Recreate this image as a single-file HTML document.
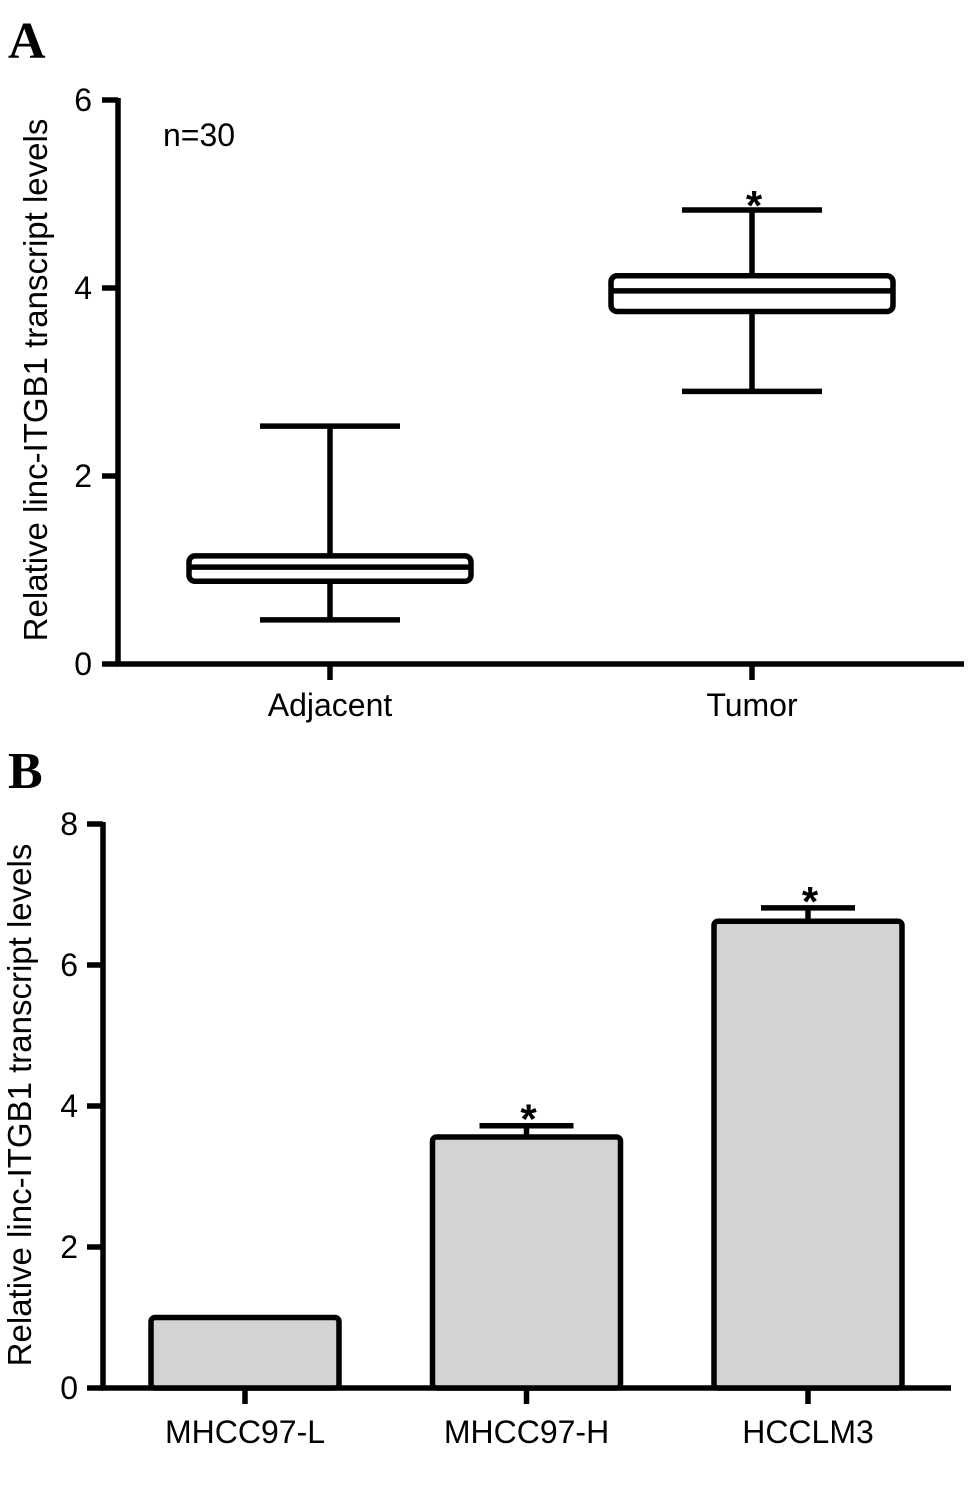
<!DOCTYPE html>
<html><head><meta charset="utf-8"><style>
html,body{margin:0;padding:0;background:#fff}
svg{display:block}
text{font-family:"Liberation Sans",Arial,sans-serif;fill:#000}
</style></head><body>
<svg width="977" height="1494" viewBox="0 0 977 1494">
<text x="8" y="58" font-weight="bold" font-size="52" style="font-family:'Liberation Serif',serif">A</text>
<text x="8" y="788" font-weight="bold" font-size="52" style="font-family:'Liberation Serif',serif">B</text>
<g id="ga"></g>
<g id="gb"></g>
</svg>
<script>
// Panel A data
const boxCategories = ["Adjacent", "Tumor"];
const boxMin = [0.47, 2.9];
const boxQ1 = [0.88, 3.75];
const boxMedian = [1.03, 3.97];
const boxQ3 = [1.15, 4.13];
const boxMax = [2.53, 4.83];
const boxSignificant = [false, true];
const aTicks = [0, 2, 4, 6];
// Panel B data
const barCategories = ["MHCC97-L", "MHCC97-H", "HCCLM3"];
const barValues = [1.0, 3.56, 6.62];
const barErrors = [0, 0.16, 0.19];
const barSignificant = [false, true, true];
const bTicks = [0, 2, 4, 6, 8];

const NS = "http://www.w3.org/2000/svg";
function mk(parent, tag, attrs, txt){
  const e = document.createElementNS(NS, tag);
  for (const k in attrs) e.setAttribute(k, attrs[k]);
  if (txt !== undefined) e.textContent = txt;
  parent.appendChild(e);
  return e;
}
const LW = 5.5;

// ---- Panel A ----
const ga = document.getElementById("ga");
const aY = v => 664 - v * 94;
const aX = i => 330 + i * 422;
let e;
e = mk(ga, "line", {x1:118, y1:98, x2:118, y2:666, stroke:"#000", "stroke-width":LW});


e = mk(ga, "line", {x1:116, y1:664, x2:964, y2:664, stroke:"#000", "stroke-width":LW});


aTicks.forEach(t => {
  e = mk(ga, "line", {x1:102, y1:aY(t), x2:118, y2:aY(t), stroke:"#000", "stroke-width":LW});
  
  
  e = mk(ga, "text", {x:92, y:aY(t)+11, "font-size":32, "text-anchor":"end"}, String(t));
  
  
});
e = mk(ga, "text", {x:0, y:0, "font-size":33, "text-anchor":"middle", transform:"translate(47,380) rotate(-90)"}, "Relative linc-ITGB1 transcript levels");


e = mk(ga, "text", {x:163, y:146, "font-size":32}, "n=30");


boxCategories.forEach((c, i) => {
  const cx = aX(i);
  e = mk(ga, "line", {x1:cx, y1:664, x2:cx, y2:680, stroke:"#000", "stroke-width":LW});
  
  
  e = mk(ga, "text", {x:cx, y:716, "font-size":32, "text-anchor":"middle"}, c);
  
  
  e = mk(ga, "line", {x1:cx, y1:aY(boxMax[i]), x2:cx, y2:aY(boxMin[i]), stroke:"#000", "stroke-width":LW});
  
  
  [boxMax[i], boxMin[i]].forEach(v => {
    e = mk(ga, "line", {x1:cx-70, y1:aY(v), x2:cx+70, y2:aY(v), stroke:"#000", "stroke-width":LW});
    
    
  });
  e = mk(ga, "rect", {x:cx-141, y:aY(boxQ3[i]), width:282, height:aY(boxQ1[i])-aY(boxQ3[i]), rx:6, fill:"#fff", stroke:"#000", "stroke-width":LW});
  
  
  e = mk(ga, "line", {x1:cx-141, y1:aY(boxMedian[i]), x2:cx+141, y2:aY(boxMedian[i]), stroke:"#000", "stroke-width":LW});
  
  
  if (boxSignificant[i]) {
    e = mk(ga, "text", {x:cx+2, y:aY(boxMax[i])+10, "font-size":42, "font-weight":"bold", "text-anchor":"middle"}, "*");
    
    
  }
});

// ---- Panel B ----
const gb = document.getElementById("gb");
const bY = v => 1388 - v * 70.5;
const bX = i => 245 + i * 281.5;
e = mk(gb, "line", {x1:103, y1:822, x2:103, y2:1390, stroke:"#000", "stroke-width":LW});


e = mk(gb, "line", {x1:101, y1:1388, x2:951, y2:1388, stroke:"#000", "stroke-width":LW});


bTicks.forEach(t => {
  e = mk(gb, "line", {x1:87, y1:bY(t), x2:103, y2:bY(t), stroke:"#000", "stroke-width":LW});
  
  
  e = mk(gb, "text", {x:78, y:bY(t)+11, "font-size":32, "text-anchor":"end"}, String(t));
  
  
});
e = mk(gb, "text", {x:0, y:0, "font-size":33, "text-anchor":"middle", transform:"translate(31,1105) rotate(-90)"}, "Relative linc-ITGB1 transcript levels");


barCategories.forEach((c, i) => {
  const cx = bX(i);
  e = mk(gb, "line", {x1:cx, y1:1388, x2:cx, y2:1404, stroke:"#000", "stroke-width":LW});
  
  
  e = mk(gb, "text", {x:cx, y:1443, "font-size":32, "text-anchor":"middle"}, c);
  
  
  if (barErrors[i] > 0) {
    const top = bY(barValues[i] + barErrors[i]);
    e = mk(gb, "line", {x1:cx, y1:top, x2:cx, y2:bY(barValues[i]), stroke:"#000", "stroke-width":LW});
    
    
    e = mk(gb, "line", {x1:cx-47, y1:top, x2:cx+47, y2:top, stroke:"#000", "stroke-width":LW});
    
    
  }
  e = mk(gb, "rect", {x:cx-94, y:bY(barValues[i]), width:188, height:1388-bY(barValues[i]), rx:4, fill:"#d3d3d3", stroke:"#000", "stroke-width":LW});
  
  
  if (barSignificant[i]) {
    e = mk(gb, "text", {x:cx+2, y:bY(barValues[i] + barErrors[i])+8, "font-size":42, "font-weight":"bold", "text-anchor":"middle"}, "*");
    
    
  }
});
</script>
</body></html>
